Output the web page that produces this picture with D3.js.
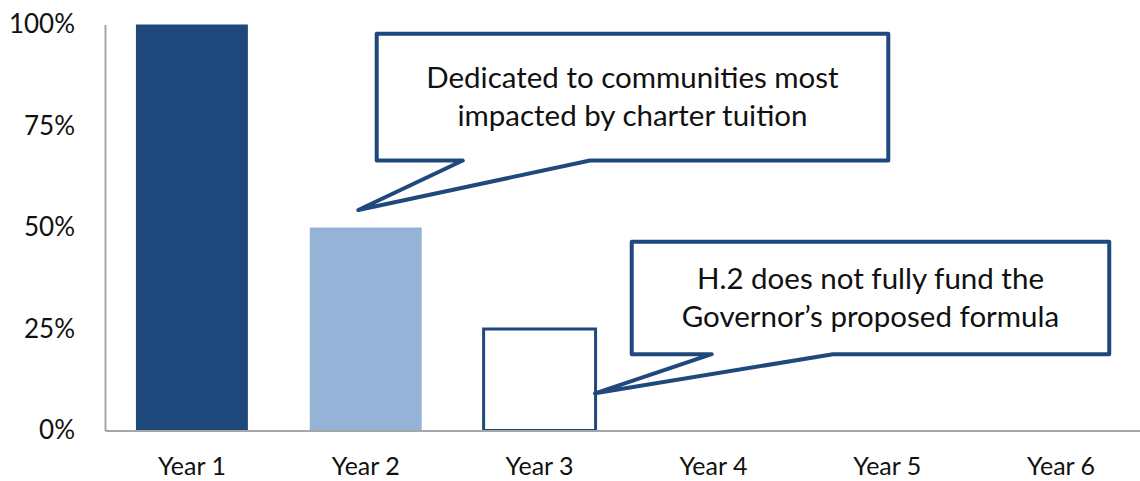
<!DOCTYPE html>
<html>
<head>
<meta charset="utf-8">
<script src="https://cdn.jsdelivr.net/npm/d3@7"></script>
<style>
  body { margin: 0; background: #fff; }
  text { font-family: Lato, "Open Sans", sans-serif; fill: #111; }
</style>
</head>
<body>
<div id="chart"></div>
<script>
// values
var years = ['Year 1', 'Year 2', 'Year 3', 'Year 4', 'Year 5', 'Year 6'];
var shares = [1, 0.5, 0.25, null, null, null];
var yTicks = [0, 0.25, 0.5, 0.75, 1];
var callout1 = ['Dedicated to communities most', 'impacted by charter tuition'];
var callout2 = ['H.2 does not fully fund the', 'Governor\u2019s proposed formula'];

var width = 1140, height = 481;
var margin = { top: 24.5, right: -8, bottom: 50.5, left: 105 };
var dark = '#1f497d', light = '#95b3d7', axisGrey = '#a6a6a6';

var svg = d3.select('#chart').append('svg')
    .attr('width', width)
    .attr('height', height);

var x = d3.scaleBand()
    .domain(years)
    .range([margin.left, width - margin.right])
    .paddingInner(0.356)
    .paddingOuter(0.178);

// continuous version of the category axis, used to place the callouts
var xPos = d3.scaleLinear().domain([0, years.length]).range(x.range());

var y = d3.scaleLinear()
    .domain([0, 1])
    .range([height - margin.bottom, margin.top]);

// bars
var bars = years.map(function (d, i) { return { year: d, v: shares[i], i: i }; })
    .filter(function (d) { return d.v != null; });

svg.append('g').selectAll('rect')
    .data(bars)
  .enter().append('rect')
    .attr('x', function (d) { return x(d.year); })
    .attr('y', function (d) { return y(d.v); })
    .attr('width', x.bandwidth())
    .attr('height', function (d) { return y(0) - y(d.v); })
    .attr('fill', function (d) { return d.i == 0 ? dark : d.i == 1 ? light : '#fff'; })
    .attr('stroke', function (d) { return d.i == 2 ? dark : 'none'; })
    .attr('stroke-width', 3);

// axes
var yAxis = svg.append('g')
    .attr('transform', 'translate(' + margin.left + ',0)')
    .call(d3.axisLeft(y).tickValues(yTicks).tickSize(0).tickPadding(30)
        .tickFormat(d3.format('.0%')));
yAxis.select('.domain').attr('stroke', axisGrey).attr('stroke-width', 2);
yAxis.selectAll('text').style('font-size', '26px').attr('fill', '#111');

var xAxis = svg.append('g')
    .attr('transform', 'translate(0,' + y(0) + ')')
    .call(d3.axisBottom(x).tickSize(0).tickPadding(27));
xAxis.select('.domain').attr('stroke', axisGrey).attr('stroke-width', 2);
xAxis.selectAll('text').style('font-size', '25px').attr('fill', '#111');

// speech-bubble callouts: box corners, tail base and tail tip in (category, value) space
var callouts = [
    { lines: callout1, x0: 1.563, x1: 4.506, top: 0.977, bottom: 0.665,
      tailA: 2.058, tailB: 2.79, tipX: 1.457, tipY: 0.543 },
    { lines: callout2, x0: 3.030, x1: 5.777, top: 0.465, bottom: 0.188,
      tailA: 3.49, tailB: 4.188, tipX: 2.819, tipY: 0.0916 }
];

var cg = svg.append('g').selectAll('g')
    .data(callouts)
  .enter().append('g');

cg.append('path')
    .attr('d', function (d) {
        var p = d3.path();
        p.moveTo(xPos(d.x0), y(d.top));
        p.lineTo(xPos(d.x1), y(d.top));
        p.lineTo(xPos(d.x1), y(d.bottom));
        p.lineTo(xPos(d.tailB), y(d.bottom));
        p.lineTo(xPos(d.tipX), y(d.tipY));
        p.lineTo(xPos(d.tailA), y(d.bottom));
        p.lineTo(xPos(d.x0), y(d.bottom));
        p.closePath();
        return p.toString();
    })
    .attr('fill', '#fff')
    .attr('stroke', dark)
    .attr('stroke-width', 4)
    .attr('stroke-linejoin', 'round');

cg.each(function (d) {
    var cx = (xPos(d.x0) + xPos(d.x1)) / 2;
    var mid = (y(d.top) + y(d.bottom)) / 2;
    d3.select(this).selectAll('text')
        .data(d.lines)
      .enter().append('text')
        .attr('x', cx)
        .attr('y', function (t, i) { return mid + (i - 0.5) * 38; })
        .attr('dy', '0.35em')
        .attr('text-anchor', 'middle')
        .style('font-size', '29.5px')
        .text(function (t) { return t; });
});
</script>
</body>
</html>
